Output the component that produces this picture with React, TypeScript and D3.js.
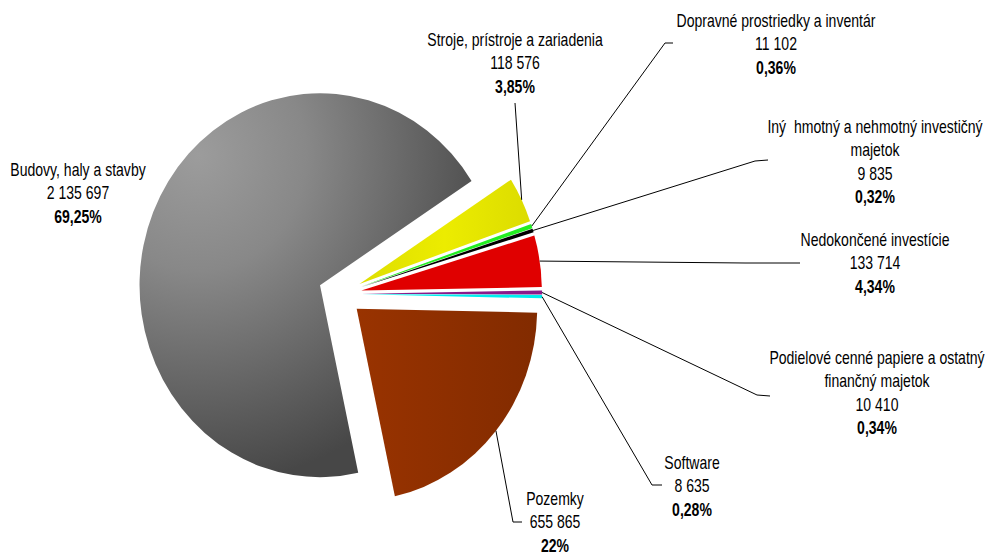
import React from 'react';
import * as d3 from 'd3';

// data (order = clockwise drawing order)
const names = [
  'Stroje, prístroje a zariadenia',
  'Dopravné prostriedky a inventár',
  'Iný  hmotný a nehmotný investičný majetok',
  'Nedokončené investície',
  'Podielové cenné papiere a ostatný finančný majetok',
  'Software',
  'Pozemky',
  'Budovy, haly a stavby',
];
const values = [118576, 11102, 9835, 133714, 10410, 8635, 655865, 2135697];
const valueLabels = ['118 576', '11 102', '9 835', '133 714', '10 410', '8 635', '655 865', '2 135 697'];
const percentLabels = ['3,85%', '0,36%', '0,32%', '4,34%', '0,34%', '0,28%', '22%', '69,25%'];
const labelLines = [
  ['Stroje, prístroje a zariadenia'],
  ['Dopravné prostriedky a inventár'],
  ['Iný  hmotný a nehmotný investičný', 'majetok'],
  ['Nedokončené investície'],
  ['Podielové cenné papiere a ostatný', 'finančný majetok'],
  ['Software'],
  ['Pozemky'],
  ['Budovy, haly a stavby'],
];

const fills = ['url(#gYellow)', '#22ee22', '#000000', '#e00000', '#8a1a8a', '#00eeee', 'url(#gBrown)', 'url(#gGray)'];

// label layout: text center x, first baseline y, leader elbow + end (null = no leader)
const labelLayout = [
  { x: 515, y: 46, elbow: [515, 103], end: [515, 103] },
  { x: 776, y: 27, elbow: [665, 43], end: [673, 43] },
  { x: 875, y: 133, elbow: [755, 161], end: [768, 160] },
  { x: 875, y: 246, elbow: [745, 263], end: [800, 263] },
  { x: 877, y: 364, elbow: [757, 395], end: [770, 396] },
  { x: 692, y: 469, elbow: [652, 485], end: [662, 485] },
  { x: 555, y: 505, elbow: [513, 522], end: [522, 522] },
  { x: 78, y: 176, elbow: null, end: null },
];

const W = 986;
const H = 556;
const cx = 340;
const cy = 294;
const radius = 192;
const sx = 0.94;
const explode = 23;
const lineH = 23.5;
const narrow = 0.78;
const font = "'Liberation Sans', Arial, sans-serif";

export default function App() {
  const pie = d3
    .pie<number>()
    .sort(null)
    .value((d) => d)
    .startAngle((57.1 * Math.PI) / 180)
    .endAngle((57.1 * Math.PI) / 180 + Math.PI * 2);
  const arcs = pie(values);
  const arc = d3.arc<d3.PieArcDatum<number>>().innerRadius(0).outerRadius(radius);

  return (
    <svg width={W} height={H} style={{ position: 'absolute', left: 0, top: 0, background: '#fff' }}>
      <defs>
        <radialGradient id="gGray" gradientUnits="userSpaceOnUse" cx={-130} cy={-130} r={330}>
          <stop offset="0" stopColor="#9c9c9c" />
          <stop offset="0.35" stopColor="#888888" />
          <stop offset="1" stopColor="#474747" />
        </radialGradient>
        <linearGradient id="gBrown" x1="0" y1="0" x2="1" y2="0">
          <stop offset="0" stopColor="#993300" />
          <stop offset="1" stopColor="#822b00" />
        </linearGradient>
        <linearGradient id="gYellow" x1="0" y1="0" x2="1" y2="0">
          <stop offset="0" stopColor="#dede00" />
          <stop offset="0.5" stopColor="#ecec00" />
          <stop offset="1" stopColor="#dcdc00" />
        </linearGradient>
      </defs>
      <g transform={`translate(${cx},${cy}) scale(${sx},1)`}>
        {arcs.map((a, i) => {
          const mid = (a.startAngle + a.endAngle) / 2;
          const dx = Math.sin(mid) * explode;
          const dy = -Math.cos(mid) * explode;
          return (
            <path key={i} d={arc(a) || ''} fill={fills[i]} transform={`translate(${dx},${dy})`} />
          );
        })}
      </g>
      <g fill="none" stroke="#000" strokeWidth={1}>
        {arcs.map((a, i) => {
          const lay = labelLayout[i];
          if (!lay.elbow) return null;
          const mid = (a.startAngle + a.endAngle) / 2;
          const r = radius + explode;
          const px = cx + Math.sin(mid) * r * sx;
          const py = cy - Math.cos(mid) * r;
          return (
            <polyline
              key={i}
              points={`${px},${py} ${lay.elbow[0]},${lay.elbow[1]} ${lay.end[0]},${lay.end[1]}`}
            />
          );
        })}
      </g>
      <g fontFamily={font} fontSize={18} textAnchor="middle" fill="#000">
        {labelLayout.map((lay, i) => {
          const lines = labelLines[i];
          return (
            <text
              key={i}
              transform={`translate(${lay.x},0) scale(${narrow},1)`}
              style={{ whiteSpace: 'pre' }}
            >
              {lines.map((l, j) => (
                <tspan key={j} x={0} y={lay.y + j * lineH}>
                  {l}
                </tspan>
              ))}
              <tspan x={0} y={lay.y + lines.length * lineH}>
                {valueLabels[i]}
              </tspan>
              <tspan x={0} y={lay.y + (lines.length + 1) * lineH} fontWeight="bold">
                {percentLabels[i]}
              </tspan>
            </text>
          );
        })}
      </g>
    </svg>
  );
}
